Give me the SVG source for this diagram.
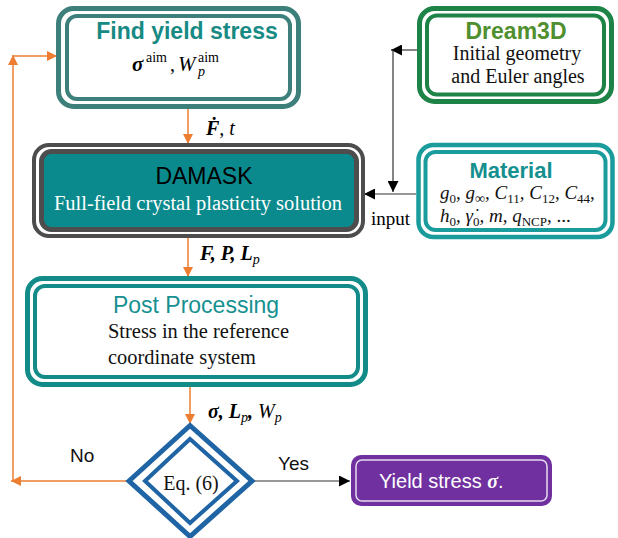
<svg xmlns="http://www.w3.org/2000/svg" width="618" height="538" viewBox="0 0 618 538">
<defs>
<style>
.sans{font-family:"Liberation Sans",Arial,sans-serif}
.serif{font-family:"Liberation Serif","Times New Roman",serif}
.bi{font-family:"Liberation Serif","Times New Roman",serif;font-style:italic;font-weight:bold}
.it{font-family:"Liberation Serif","Times New Roman",serif;font-style:italic}
.sub{font-style:normal;font-weight:normal}
.or{stroke:#ed7d31;stroke-width:1.5;fill:none}
.bk{stroke:#333;stroke-width:1.2;fill:none}
</style>
<marker id="ao" viewBox="0 0 10 10" refX="10" refY="5" markerWidth="10" markerHeight="10" markerUnits="userSpaceOnUse" orient="auto"><path d="M0,0 L10,5 L0,10 z" fill="#ed7d31"/></marker>
<marker id="ab" viewBox="0 0 10 10" refX="10" refY="5" markerWidth="11" markerHeight="11" markerUnits="userSpaceOnUse" orient="auto"><path d="M0,0 L10,5 L0,10 z" fill="#000"/></marker>
</defs>
<rect width="618" height="538" fill="#fff"/>

<g id="connectors">
<line class="or" x1="188" y1="108" x2="188" y2="144" marker-end="url(#ao)"/>
<line class="or" x1="188" y1="237" x2="188" y2="277" marker-end="url(#ao)"/>
<line class="or" x1="190" y1="387" x2="190" y2="424" marker-end="url(#ao)"/>
<line class="or" x1="129" y1="481" x2="11" y2="481" marker-end="url(#ao)"/>
<line class="or" x1="13" y1="481" x2="13" y2="55" marker-end="url(#ao)"/>
<line class="or" x1="13" y1="56" x2="57" y2="56" marker-end="url(#ao)"/>
<line class="bk" x1="417" y1="50" x2="391" y2="50" marker-end="url(#ab)"/>
<line class="bk" x1="393" y1="50" x2="393" y2="192" marker-end="url(#ab)"/>
<line class="bk" x1="416" y1="194" x2="364" y2="194" marker-end="url(#ab)"/>
<line class="bk" x1="252" y1="481" x2="350" y2="481" marker-end="url(#ab)"/>
<text x="206" y="135" class="bi" font-size="20">F&#x307;<tspan style="font-weight:normal;font-style:italic">, t</tspan></text>
<text x="200" y="260" class="bi" font-size="20">F, P, L<tspan dy="4" font-size="14" style="font-weight:normal">p</tspan></text>
<text x="208" y="418" class="bi" font-size="20">σ, L<tspan dy="4" font-size="14" style="font-weight:normal">p</tspan><tspan dy="-4">, </tspan><tspan style="font-weight:normal">W</tspan><tspan dy="4" font-size="14" style="font-weight:normal">p</tspan></text>
<text x="371" y="225" class="serif" font-size="19">input</text>
<text x="70" y="462" class="sans" font-size="19" fill="#111">No</text>
<text x="278" y="470" class="sans" font-size="19" fill="#111">Yes</text>
</g>

<g id="find-yield-stress">
<rect x="58.5" y="8.5" width="240" height="98" rx="15" fill="#fff" stroke="#3d7f7a" stroke-width="5"/>
<rect x="67" y="16" width="223" height="83" rx="10" fill="none" stroke="#3d7f7a" stroke-width="4"/>
<text x="187" y="39" class="sans" font-size="23" font-weight="bold" fill="#178a84" text-anchor="middle">Find yield stress</text>
<text x="132" y="71" class="bi" font-size="21">σ</text>
<text x="146" y="62" class="serif" font-size="14">aim</text>
<text x="170" y="71" class="serif" font-size="20">,</text>
<text x="178" y="71" class="it" font-size="21">W</text>
<text x="198" y="76" class="it" font-size="14">p</text>
<text x="198" y="62" class="serif" font-size="14">aim</text>
</g>

<g id="dream3d">
<rect x="419.5" y="8.5" width="192" height="93" rx="15" fill="#fff" stroke="#1d8346" stroke-width="5"/>
<rect x="427" y="15.5" width="177" height="79" rx="10" fill="none" stroke="#1d8346" stroke-width="4"/>
<text x="516" y="39" class="sans" font-size="23" font-weight="bold" fill="#4f8f2f" text-anchor="middle">Dream3D</text>
<text x="517" y="60" class="serif" font-size="20" text-anchor="middle" fill="#111">Initial geometry</text>
<text x="518" y="83" class="serif" font-size="20" text-anchor="middle" fill="#111">and Euler angles</text>
</g>

<g id="damask">
<rect x="34" y="145" width="329" height="91" rx="15" fill="#fff" stroke="#4d4d4d" stroke-width="4"/>
<rect x="41.5" y="151.5" width="315" height="78" rx="10" fill="#0b8a8e" stroke="#4d4d4d" stroke-width="5"/>
<text x="204" y="184" class="sans" font-size="23" fill="#000" text-anchor="middle">DAMASK</text>
<text x="198" y="210" class="serif" font-size="20" fill="#fff" text-anchor="middle" textLength="288" lengthAdjust="spacingAndGlyphs">Full-field crystal plasticity solution</text>
</g>

<g id="material">
<rect x="418.5" y="145" width="194" height="92" rx="15" fill="#fff" stroke="#1a9c9c" stroke-width="4.5"/>
<rect x="425.5" y="152" width="180" height="78" rx="10" fill="none" stroke="#1a9c9c" stroke-width="4"/>
<text x="511" y="178" class="sans" font-size="22" font-weight="bold" fill="#15908f" text-anchor="middle">Material</text>
<text x="440" y="199" class="it" font-size="19" fill="#111">g<tspan dy="4" font-size="13" class="sub">0</tspan><tspan dy="-4">, g</tspan><tspan dy="4" font-size="14" class="sub">∞</tspan><tspan dy="-4">, C</tspan><tspan dy="4" font-size="13" class="sub">11</tspan><tspan dy="-4">, C</tspan><tspan dy="4" font-size="13" class="sub">12</tspan><tspan dy="-4">, C</tspan><tspan dy="4" font-size="13" class="sub">44</tspan><tspan dy="-4">,</tspan></text>
<text x="440" y="222" class="it" font-size="19" fill="#111">h<tspan dy="4" font-size="13" class="sub">0</tspan><tspan dy="-4">, γ&#x307;</tspan><tspan dy="4" font-size="13" class="sub">0</tspan><tspan dy="-4">, m, q</tspan><tspan dy="4" font-size="13" class="sub">NCP</tspan><tspan dy="-4" class="sub">, ...</tspan></text>
</g>

<g id="post-processing">
<rect x="27.5" y="278.5" width="338" height="106" rx="15" fill="#fff" stroke="#138b88" stroke-width="5"/>
<rect x="35" y="286" width="323" height="91" rx="10" fill="none" stroke="#138b88" stroke-width="4"/>
<text x="196" y="313" class="sans" font-size="23" fill="#169191" text-anchor="middle">Post Processing</text>
<text x="108" y="338" class="serif" font-size="20" fill="#111" textLength="181" lengthAdjust="spacingAndGlyphs">Stress in the reference</text>
<text x="108" y="364" class="serif" font-size="20" fill="#111" textLength="148" lengthAdjust="spacingAndGlyphs">coordinate system</text>
</g>

<g id="decision">
<polygon points="129,481 190,425.5 252,481 190,536.5" fill="#fff" stroke="#1f64a4" stroke-width="5"/>
<polygon points="145,481 190,439 237,481 190,523" fill="none" stroke="#1f64a4" stroke-width="4"/>
<text x="191" y="490" class="serif" font-size="20" fill="#111" text-anchor="middle">Eq. (6)</text>
</g>

<g id="yield-result">
<rect x="351" y="455" width="201" height="51" rx="10" fill="#7030a0"/>
<rect x="356" y="460" width="191" height="41" rx="6" fill="none" stroke="#e6dcf0" stroke-width="1.5"/>
<text x="379" y="488" class="sans" font-size="20" fill="#fff">Yield stress <tspan class="bi">σ</tspan>.</text>
</g>
</svg>
